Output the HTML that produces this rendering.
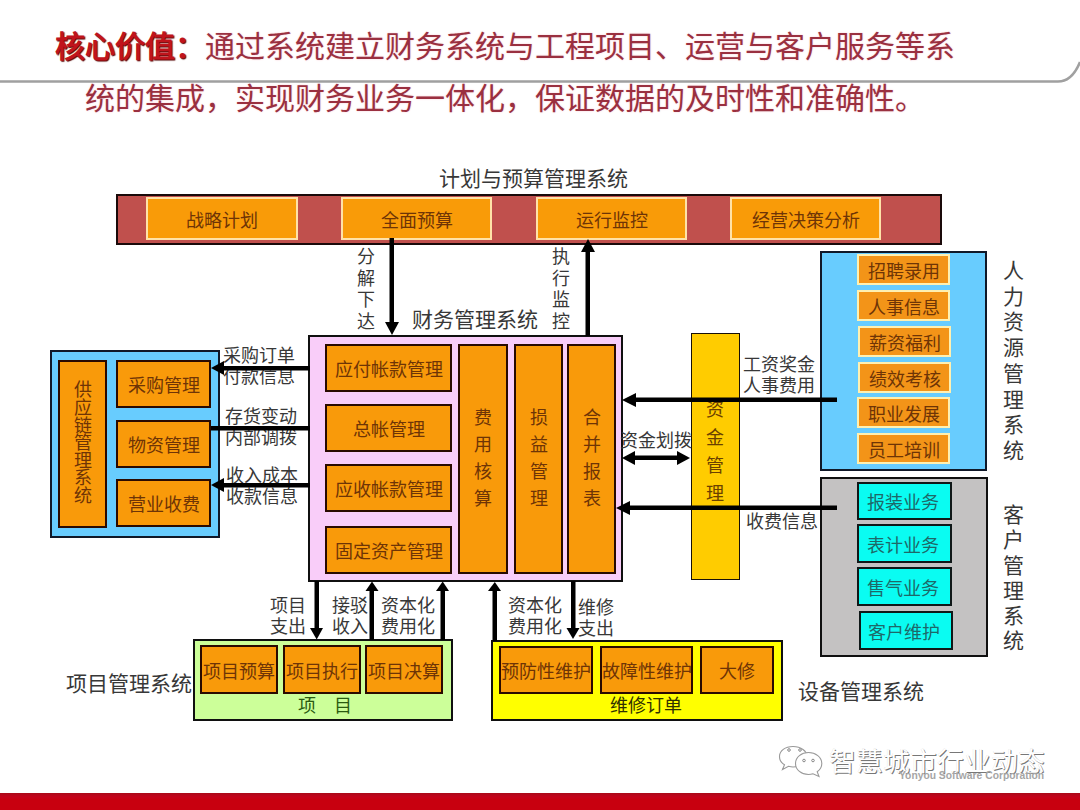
<!DOCTYPE html>
<html lang="zh-CN"><head><meta charset="utf-8">
<style>
*{margin:0;padding:0;box-sizing:border-box}
html,body{width:1080px;height:810px;overflow:hidden;background:#fff}
body{position:relative;font-family:"Liberation Serif",serif;color:#222}
.a{position:absolute}
.box{position:absolute;display:flex;align-items:center;justify-content:center;text-align:center;white-space:nowrap}
.tb{background:#F99B08;border:2px solid #FFE2A8;color:#6E3406;font-size:18px}
.ob{background:#F99A0A;border:2px solid #2a0a00;color:#6E3406;font-size:18px}
.hb{background:#F39418;border:2px solid #FFF0B0;color:#6E3406;font-size:18px}
.cb{background:#0AFCF2;border:2px solid #101818;color:#1E6868;font-size:18px;padding-right:4px}
.lbl{position:absolute;font-size:18px;line-height:21px;white-space:pre;color:#383838}
.v{line-height:21.5px;width:1.2em;text-align:center;white-space:normal}
</style></head><body>
<!-- title -->
<div class="a" style="left:55px;top:29px;font-size:30px;line-height:36px;white-space:nowrap;color:#9A3040;text-shadow:0 0 2px #F8C8D0"><b style="color:#C0141C;text-shadow:1px 1px 1px #500">核心价值：</b>通过系统建立财务系统与工程项目、运营与客户服务等系</div>
<div class="a" style="left:85px;top:81px;font-size:30px;line-height:36px;white-space:nowrap;color:#9A3040;text-shadow:0 0 2px #F8C8D0">统的集成，实现财务业务一体化，保证数据的及时性和准确性。</div>
<svg class="a" style="left:0;top:0" width="1080" height="100"><path d="M0 81.5 H1058 Q1072 81.5 1080 62" fill="none" stroke="#A0A0A0" stroke-width="2.5"/></svg>

<!-- plan bar -->
<div class="lbl" style="left:439px;top:167px;font-size:21px;line-height:24px">计划与预算管理系统</div>
<div class="a" style="left:116px;top:194px;width:826px;height:51px;background:#C0504D;border:2px solid #1a0a0a"></div>
<div class="box tb" style="left:146px;top:197px;width:152px;height:43px">战略计划</div>
<div class="box tb" style="left:341px;top:197px;width:151px;height:43px">全面预算</div>
<div class="box tb" style="left:536px;top:197px;width:151px;height:43px">运行监控</div>
<div class="box tb" style="left:730px;top:197px;width:151px;height:43px">经营决策分析</div>

<div class="lbl v" style="left:355px;top:247px">分解下达</div>
<div class="lbl v" style="left:550px;top:247px">执行监控</div>
<div class="lbl" style="left:412px;top:308px;font-size:21px;line-height:24px">财务管理系统</div>

<!-- left supply panel -->
<div class="a" style="left:50px;top:350px;width:170px;height:188px;background:#68CCFE;border:2px solid #101828"></div>
<div class="box ob" style="left:58px;top:360px;width:49px;height:168px;white-space:normal;line-height:17.6px;padding:0 14px">供应链管理系统</div>
<div class="box ob" style="left:116px;top:360px;width:95px;height:48px">采购管理</div>
<div class="box ob" style="left:116px;top:420px;width:95px;height:48px">物资管理</div>
<div class="box ob" style="left:116px;top:479px;width:95px;height:48px">营业收费</div>
<div class="lbl" style="left:223px;top:346px">采购订单
付款信息</div>
<div class="lbl" style="left:225px;top:407px">存货变动
内部调拨</div>
<div class="lbl" style="left:226px;top:466px">收入成本
收款信息</div>

<!-- pink finance -->
<div class="a" style="left:308px;top:335px;width:315px;height:247px;background:#F9CDF9;border:2px solid #101010"></div>
<div class="box ob" style="left:325px;top:344px;width:127px;height:48px">应付帐款管理</div>
<div class="box ob" style="left:325px;top:404px;width:127px;height:48px">总帐管理</div>
<div class="box ob" style="left:325px;top:464px;width:127px;height:48px">应收帐款管理</div>
<div class="box ob" style="left:325px;top:526px;width:127px;height:48px">固定资产管理</div>
<div class="box ob" style="left:458px;top:344px;width:50px;height:230px;white-space:normal;line-height:27px;padding:0 15px">费用核算</div>
<div class="box ob" style="left:514px;top:344px;width:49px;height:230px;white-space:normal;line-height:27px;padding:0 15px">损益管理</div>
<div class="box ob" style="left:567px;top:344px;width:49px;height:230px;white-space:normal;line-height:27px;padding:0 15px">合并报表</div>

<!-- gold -->
<div class="a" style="left:691px;top:333px;width:49px;height:247px;background:#FFCC00;border:1.5px solid #181008"></div>
<div class="lbl v" style="left:704px;top:396px;line-height:28px;color:#6A4000">资金管理</div>
<div class="lbl" style="left:743px;top:355px">工资奖金
人事费用</div>
<div class="lbl" style="left:620px;top:431px">资金划拨</div>
<div class="lbl" style="left:746px;top:512px">收费信息</div>

<!-- HR -->
<div class="a" style="left:820px;top:251px;width:167px;height:220px;background:#68CCFE;border:2px solid #101828"></div>
<div class="box hb" style="left:857px;top:254px;width:93px;height:31px">招聘录用</div>
<div class="box hb" style="left:857px;top:290px;width:93px;height:31px">人事信息</div>
<div class="box hb" style="left:858px;top:326px;width:93px;height:31px">薪资福利</div>
<div class="box hb" style="left:858px;top:362px;width:93px;height:31px">绩效考核</div>
<div class="box hb" style="left:857px;top:397px;width:93px;height:31px">职业发展</div>
<div class="box hb" style="left:857px;top:433px;width:93px;height:31px">员工培训</div>
<div class="lbl v" style="left:1001px;top:259px;font-size:21px;line-height:25.7px">人力资源管理系统</div>

<!-- customer -->
<div class="a" style="left:820px;top:477px;width:168px;height:180px;background:#C4C2C2;border:2px solid #101010"></div>
<div class="box cb" style="left:857px;top:482px;width:95px;height:38px">报装业务</div>
<div class="box cb" style="left:857px;top:524px;width:95px;height:39px">表计业务</div>
<div class="box cb" style="left:857px;top:567px;width:95px;height:39px">售气业务</div>
<div class="box cb" style="left:859px;top:611px;width:94px;height:39px">客户维护</div>
<div class="lbl v" style="left:1001px;top:503px;font-size:21px;line-height:25.3px">客户管理系统</div>

<!-- project -->
<div class="lbl" style="left:66px;top:672px;font-size:21px;line-height:24px">项目管理系统</div>
<div class="a" style="left:193px;top:639px;width:260px;height:82px;background:#CCFF99;border:2px solid #101010"></div>
<div class="box ob" style="left:200px;top:645px;width:78px;height:49px">项目预算</div>
<div class="box ob" style="left:283px;top:645px;width:78px;height:49px">项目执行</div>
<div class="box ob" style="left:365px;top:645px;width:78px;height:49px">项目决算</div>
<div class="lbl" style="left:298px;top:696px;color:#2A5A10">项</div><div class="lbl" style="left:334px;top:696px;color:#2A5A10">目</div>
<div class="lbl" style="left:270px;top:596px">项目
支出</div>
<div class="lbl" style="left:332px;top:596px">接驳
收入</div>
<div class="lbl" style="left:381px;top:596px">资本化
费用化</div>

<!-- maintenance -->
<div class="a" style="left:491px;top:640px;width:292px;height:81px;background:#FFFF00;border:2px solid #101010"></div>
<div class="box ob" style="left:499px;top:646px;width:94px;height:48px">预防性维护</div>
<div class="box ob" style="left:600px;top:646px;width:93px;height:48px">故障性维护</div>
<div class="box ob" style="left:700px;top:646px;width:74px;height:48px">大修</div>
<div class="lbl" style="left:610px;top:696px;color:#303000">维修订单</div>
<div class="lbl" style="left:508px;top:596px">资本化
费用化</div>
<div class="lbl" style="left:578px;top:598px">维修
支出</div>
<div class="lbl" style="left:798px;top:680px;font-size:21px;line-height:24px">设备管理系统</div>

<!-- arrows -->
<svg class="a" style="left:0;top:0" width="1080" height="810">
<g fill="#000" stroke="none">
<rect x="389.5" y="238" width="4.5" height="86"/><path d="M385 322 H399 L392 335 Z"/>
<rect x="585.5" y="251" width="4.5" height="85"/><path d="M581 252 H595 L588 239 Z"/>
<rect x="222" y="366" width="88" height="4.5"/><path d="M224 361 V375 L211 368 Z"/>
<rect x="211" y="426" width="99" height="4.5"/>
<rect x="222" y="483" width="88" height="4.5"/><path d="M224 478 V492 L211 485 Z"/>
<rect x="634" y="397.5" width="203" height="4.5"/><path d="M636 393 V407 L622 400 Z"/>
<rect x="633" y="455.5" width="46" height="4.5"/><path d="M635 451 V465 L622 458 Z"/><path d="M677 451 V465 L690 458 Z"/>
<rect x="628" y="505.5" width="209" height="4.5"/><path d="M630 501 V515 L616 508 Z"/>
<rect x="314.5" y="581" width="4.5" height="48"/><path d="M310 628 H323 L316.7 639.5 Z"/>
<rect x="369.5" y="590" width="4.5" height="50"/><path d="M365.5 591 H378.5 L372 581.5 Z"/>
<rect x="440.5" y="590" width="4.5" height="50"/><path d="M436 591 H449 L442.7 581.5 Z"/>
<rect x="492.5" y="590" width="4.5" height="51"/><path d="M488 591 H501 L494.8 582 Z"/>
<rect x="571" y="581" width="4.5" height="48"/><path d="M566.5 628 H579.5 L573 639 Z"/>
</g></svg>

<!-- watermark -->
<svg class="a" style="left:778px;top:744px" width="48" height="36" viewBox="778 744 48 36">
<g fill="#fff" stroke="#999" stroke-width="1.1">
<path d="M793 746.5 C785 746.5 779.5 751 779.5 756.5 C779.5 760 781.5 763 784.5 764.8 L782.5 769.5 L788.5 766.3 C790 766.7 791.5 767 793 767 C801 767 807 762.3 807 756.5 C807 751 801 746.5 793 746.5 Z"/>
<path d="M808.5 752.5 C801.5 752.5 795.5 757 795.5 763.5 C795.5 770 801.5 774.5 808.5 774.5 C810 774.5 811.5 774.3 813 773.8 L819 776.5 L817.2 771.8 C820 769.8 821.8 767 821.8 763.5 C821.8 757 815.5 752.5 808.5 752.5 Z"/>
</g>
<g fill="none" stroke="#888" stroke-width="1"><circle cx="789" cy="750" r="1.3"/><circle cx="800" cy="750" r="1.3"/><circle cx="804" cy="760.5" r="1.3"/><circle cx="813" cy="760.5" r="1.3"/></g>
</svg>
<div class="a" style="left:829px;top:744.5px;font-size:26.7px;line-height:34px;white-space:nowrap;color:#fff;text-shadow:1px 1px 0 #777,-0.5px -0.5px 0 #ccc">智慧城市行业动态</div>
<div class="a" style="left:899px;top:770.3px;font-family:'Liberation Sans',sans-serif;font-weight:bold;font-size:10.3px;line-height:12px;white-space:nowrap;color:#A5A5A5">Yonyou Software Corporation</div>
<div class="a" style="left:0;top:793px;width:1080px;height:17px;background:linear-gradient(#A80A18 0,#B8061A 2px,#C4021A 4px,#C8000F 7px)"></div>
</body></html>
